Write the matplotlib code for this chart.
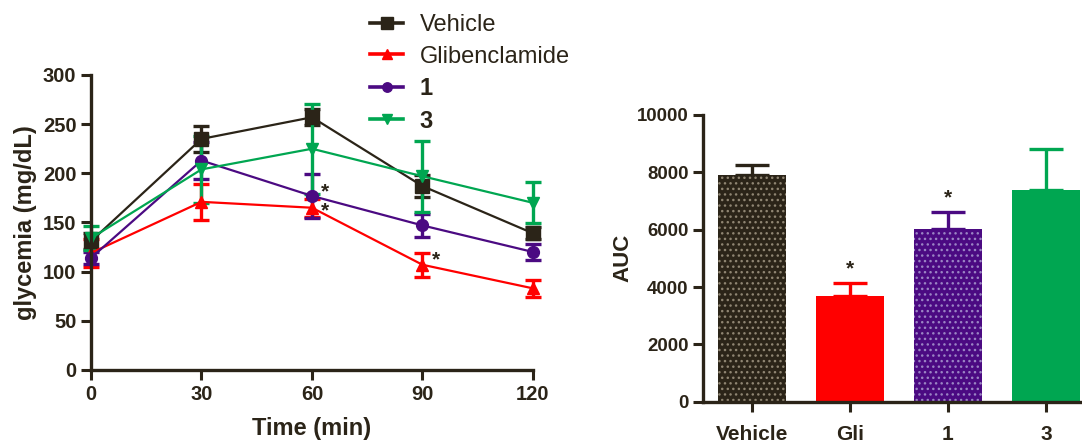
import numpy as np
import matplotlib
matplotlib.use("Agg")
import matplotlib.pyplot as plt

plt.rcParams["font.family"] = ["Liberation Sans", "DejaVu Sans"]
plt.rcParams["hatch.linewidth"] = 1.0

# glycemia time course
time_min = [0, 30, 60, 90, 120]
series_names = ["Vehicle", "Glibenclamide", "1", "3"]
vehicle_mean = [131, 235, 257, 187, 139]
vehicle_err = [8, 13, 8, 11, 6]
glib_mean = [119, 171, 165, 107, 83]
glib_err = [14, 18, 9, 12, 9]
cmpd1_mean = [114, 213, 177, 147, 120]
cmpd1_err = [6, 19, 22, 12, 8]
cmpd3_mean = [134, 204, 225, 197, 170]
cmpd3_err = [12, 34, 46, 36, 21]

# stars on the time course (x, y)
line_star_x = [62.5, 62.5, 92.5]
line_star_y = [181, 162, 112]

# AUC bars
auc_labels = ["Vehicle", "Gli", "1", "3"]
auc_mean = [7900, 3690, 6040, 7380]
auc_err = [350, 460, 580, 1420]
auc_star = [False, True, True, False]

ink = "#2b2418"
colors = [ink, "#ff0000", "#4b0a82", "#00a651"]
dot_colors = ["#8f8572", None, "#9a84c4", None]
markers = ["s", "^", "o", "v"]
msizes = [10, 8.5, 8.5, 8.5]

fig = plt.figure(figsize=(10.82, 4.44), dpi=100)

# ---- left: time course ----
ax = fig.add_axes([0.0841, 0.1667, 0.4085, 0.6644])
means = [vehicle_mean, glib_mean, cmpd1_mean, cmpd3_mean]
errs = [vehicle_err, glib_err, cmpd1_err, cmpd3_err]
handles = []
for name, m, e, c, mk, ms in zip(series_names, means, errs, colors, markers, msizes):
    h = ax.errorbar(time_min, m, yerr=e, color=c, marker=mk, markersize=ms,
                    linewidth=1.6, elinewidth=2.4, capsize=6, capthick=2.4,
                    clip_on=False)
    handles.append(h[0])

for sx, sy in zip(line_star_x, line_star_y):
    ax.text(sx, sy, "*", fontsize=15, fontweight="bold", color=ink,
            ha="left", va="center")

ax.set_xlim(0, 120)
ax.set_ylim(0, 300)
ax.set_xticks(time_min)
ax.set_yticks(np.arange(0, 301, 50))
ax.set_xlabel("Time (min)", fontsize=17, fontweight="bold", color=ink, labelpad=10)
ax.set_ylabel("glycemia (mg/dL)", fontsize=17, fontweight="bold", color=ink, labelpad=4)

leg = fig.legend(handles, series_names, loc="upper left", bbox_to_anchor=(0.342, 0.968),
                 frameon=False, fontsize=17, handlelength=1.4, handletextpad=0.7,
                 labelspacing=0.4, borderpad=0, borderaxespad=0, markerscale=0.8)
for t in leg.get_texts():
    t.set_color(ink)
    if t.get_text() in ("1", "3"):
        t.set_fontweight("bold")
for ln in leg.get_lines():
    ln.set_linewidth(2.6)

# ---- right: AUC bars ----
bx = fig.add_axes([0.6497, 0.0953, 0.3623, 0.6457])
pos = np.arange(len(auc_labels))
for p, v, e, c, dc in zip(pos, auc_mean, auc_err, colors, dot_colors):
    if dc:
        bx.bar(p, v, width=0.7, color=c, edgecolor=dc, hatch="...",
               linewidth=0, zorder=2)
    else:
        bx.bar(p, v, width=0.7, color=c, linewidth=0, zorder=2)
    bx.errorbar(p, v, yerr=[[0], [e]], color=c, elinewidth=2.4, capsize=12,
                capthick=2.4, zorder=1)

for p, v, e, s in zip(pos, auc_mean, auc_err, auc_star):
    if s:
        bx.text(p, v + e + 150, "*", fontsize=15, fontweight="bold", color=ink,
                ha="center", va="bottom")

bx.set_xlim(-0.5, 3.5)
bx.set_ylim(0, 10000)
bx.set_xticks(pos)
bx.set_xticklabels(auc_labels)
bx.set_yticks(np.arange(0, 10001, 2000))
bx.set_ylabel("AUC", fontsize=16, fontweight="bold", color=ink, labelpad=2)

for a in (ax, bx):
    for side in ("top", "right"):
        a.spines[side].set_visible(False)
    for side in ("left", "bottom"):
        a.spines[side].set_linewidth(2.4)
        a.spines[side].set_color(ink)
    a.tick_params(width=2.2, length=7, color=ink, labelcolor=ink, labelsize=14.5)
    for lab in a.get_xticklabels() + a.get_yticklabels():
        lab.set_fontweight("bold")
bx.tick_params(axis="x", pad=10, labelsize=15)
bx.tick_params(axis="y", labelsize=13.4)

fig.savefig("out.png", dpi=100)
